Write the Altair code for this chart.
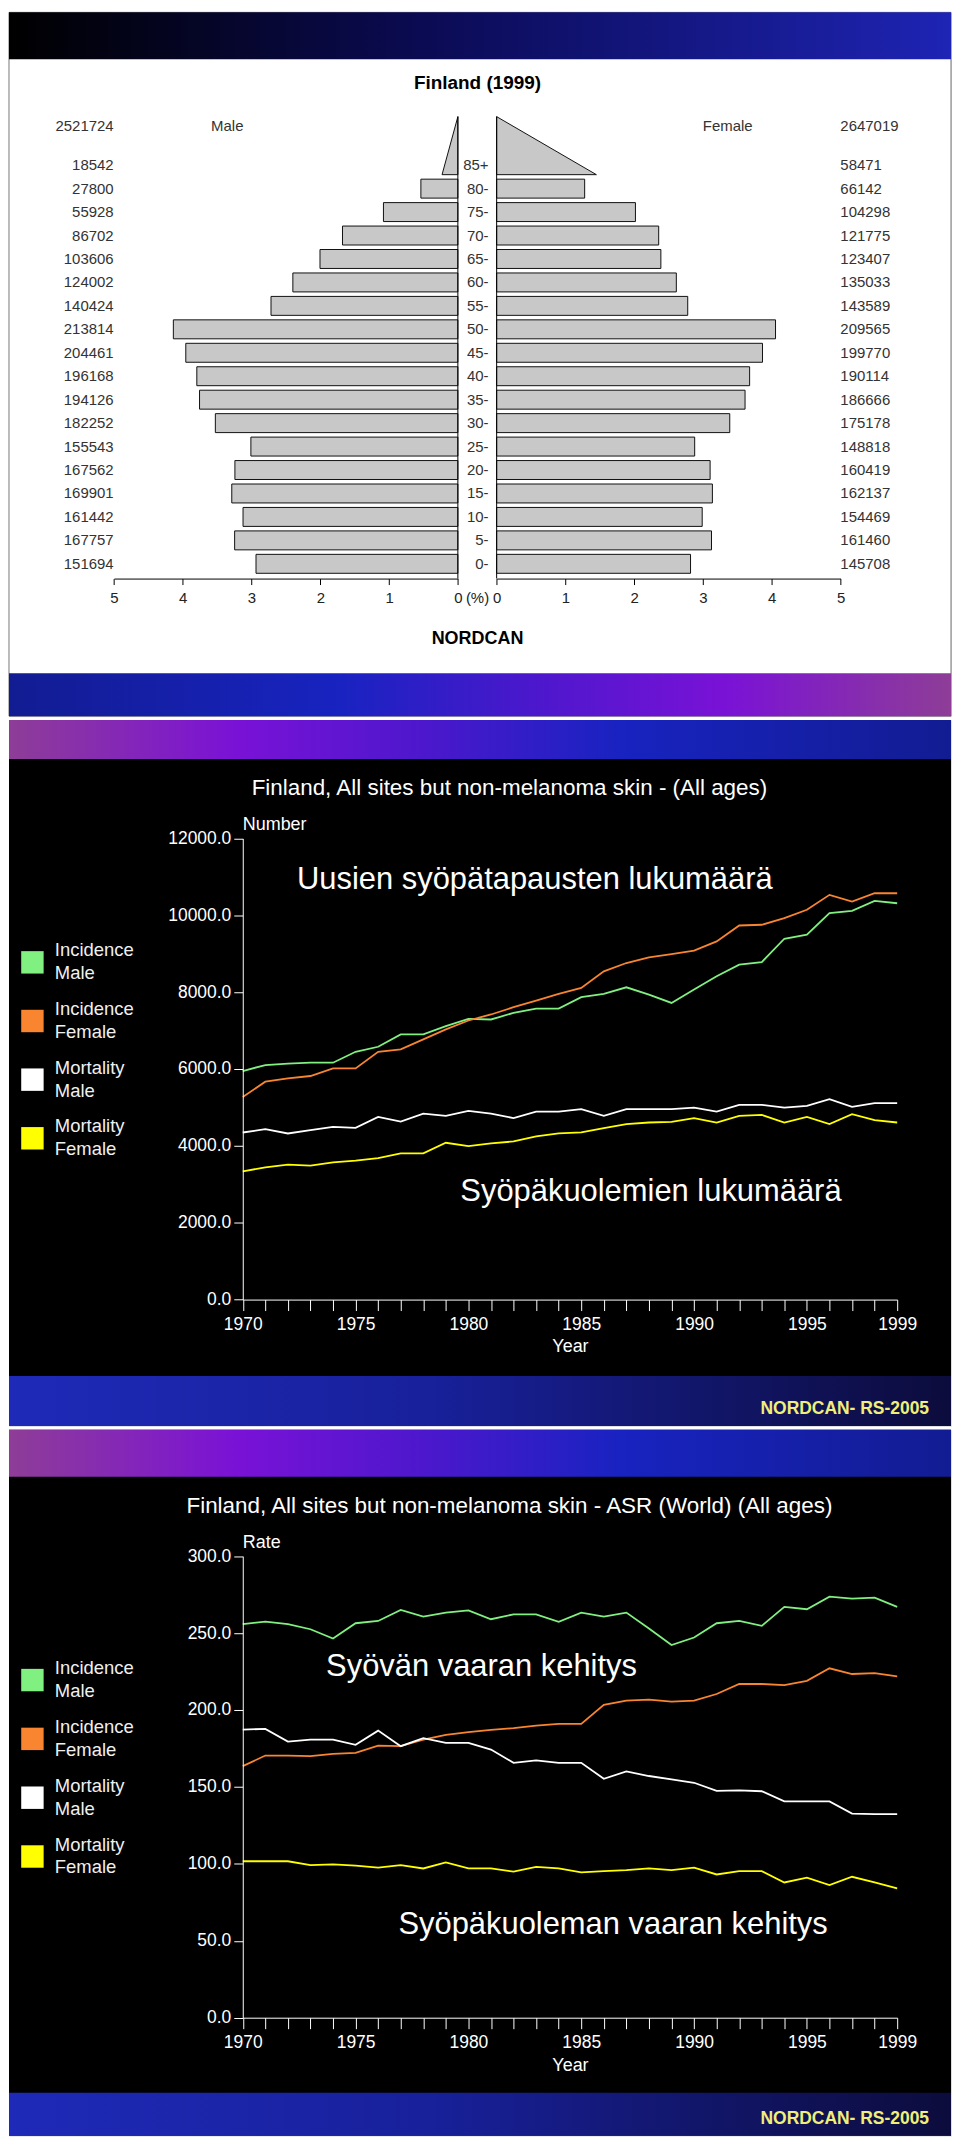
import altair as alt
import pandas as pd

# ---------------- data ----------------
ages = ["0-", "5-", "10-", "15-", "20-", "25-", "30-", "35-", "40-", "45-",
        "50-", "55-", "60-", "65-", "70-", "75-", "80-", "85+"]
male_counts = [151694, 167757, 161442, 169901, 167562, 155543, 182252, 194126, 196168,
               204461, 213814, 140424, 124002, 103606, 86702, 55928, 27800, 18542]
female_counts = [145708, 161460, 154469, 162137, 160419, 148818, 175178, 186666, 190114,
                 199770, 209565, 143589, 135033, 123407, 121775, 104298, 66142, 58471]
male_total = 2521724
female_total = 2647019
tip_width_male = 0.23     # open-ended 85+ wedge as drawn (%)
tip_width_female = 1.45

years = list(range(1970, 2000))
series_names = ["Incidence Male", "Incidence Female", "Mortality Male", "Mortality Female"]
legend_labels = ["Incidence\nMale", "Incidence\nFemale", "Mortality\nMale", "Mortality\nFemale"]
series_colors = ["#80f080", "#fa8530", "#ffffff", "#ffff00"]

num_inc_male = [5948, 6104, 6138, 6164, 6164, 6449, 6579, 6900, 6900, 7115, 7305, 7289, 7461, 7574, 7574,
                7868, 7954, 8127, 7938, 7720, 8067, 8412, 8716, 8784, 9390, 9494, 10055, 10117, 10376, 10314]
num_inc_female = [5274, 5671, 5759, 5818, 6017, 6017, 6449, 6511, 6770, 7030, 7263, 7419, 7608, 7782, 7954,
                  8109, 8542, 8758, 8905, 8991, 9079, 9320, 9735, 9754, 9925, 10143, 10532, 10358, 10574, 10574]
num_mort_male = [4348, 4435, 4322, 4410, 4495, 4470, 4755, 4633, 4841, 4781, 4910, 4841, 4721, 4893, 4893,
                 4955, 4781, 4955, 4955, 4955, 4997, 4893, 5066, 5066, 4997, 5040, 5214, 5015, 5110, 5110]
num_mort_female = [3337, 3441, 3510, 3484, 3571, 3614, 3683, 3804, 3804, 4081, 3995, 4064, 4115, 4245, 4323,
                   4349, 4461, 4565, 4608, 4625, 4721, 4608, 4781, 4807, 4608, 4755, 4565, 4825, 4669, 4608]

asr_inc_male = [255.8, 257.5, 255.8, 252.5, 246.5, 256.4, 257.9, 265.0, 260.7, 263.3, 264.8, 259.0, 262.2, 262.2, 257.3,
                263.3, 260.7, 263.3, 253.0, 242.2, 247.1, 256.4, 257.9, 254.7, 267.0, 265.5, 273.7, 272.4, 273.1, 267.0]
asr_inc_female = [163.5, 170.4, 170.4, 170.0, 171.5, 172.2, 176.9, 176.5, 180.8, 183.8, 185.6, 187.1, 188.2, 189.9, 191.0,
                  191.0, 203.3, 206.1, 206.7, 205.4, 206.1, 210.4, 216.9, 216.9, 216.2, 219.0, 227.1, 223.4, 224.0, 221.9]
asr_mort_male = [187.3, 187.7, 179.5, 180.8, 180.8, 177.4, 186.6, 176.5, 181.7, 178.7, 178.7, 174.3, 165.7, 167.2, 165.7,
                 165.7, 155.3, 160.1, 157.1, 154.9, 152.7, 147.4, 147.8, 147.2, 140.6, 140.6, 140.6, 132.7, 132.3, 132.3]
asr_mort_female = [101.7, 101.7, 101.7, 99.2, 99.6, 98.8, 97.6, 99.2, 97.0, 100.9, 97.0, 97.0, 94.9, 98.1, 97.0,
                   94.4, 95.3, 95.9, 97.0, 95.9, 97.5, 93.1, 95.3, 95.3, 87.9, 91.0, 86.2, 91.6, 87.9, 84.0]

# ---------------- styling / layout ----------------
FONT = "Liberation Sans"
W = 945
H1, H2, H3 = 706, 708, 708

BAND_P1_TOP = [(0, "#000000"), (0.45, "#0b0b55"), (1, "#1e24b4")]
BAND_P1_BOTTOM = [(0, "#121c92"), (0.35, "#1823c0"), (0.55, "#4a18cc"), (0.76, "#7a12d6"), (1, "#8e3d97")]
BAND_TOP = [(0, "#8e3d97"), (0.24, "#7a12d6"), (0.45, "#4a18cc"), (0.65, "#1823c0"), (1, "#121c92")]
BAND_BOTTOM = [(0, "#1e2ab8"), (0.45, "#18209a"), (1, "#0c0c3c")]


def grad(stops):
    return alt.LinearGradient(gradient="linear",
                              stops=[alt.GradientStop(color=c, offset=o) for o, c in stops],
                              x1=0, x2=1, y1=0, y2=0)


def rect_layer(y0, y1, fill, stroke=None):
    kw = dict(fill=fill)
    if stroke is not None:
        kw.update(stroke=stroke, strokeWidth=1)
    return alt.Chart(alt.Data(values=[{"k": 0}])).mark_rect(**kw).encode(
        x=alt.value(0), x2=alt.value(W), y=alt.value(y0), y2=alt.value(y1))


def text_layer(txt, x, y, size, color, weight="normal", align="center"):
    return alt.Chart(alt.Data(values=[{"t": txt}])).mark_text(
        font=FONT, fontSize=size, fontWeight=weight, color=color, align=align, baseline="middle"
    ).encode(x=alt.value(x), y=alt.value(y), text="t:N")


# ---------------- panel 1: population pyramid ----------------
total = male_total + female_total
pyr = pd.DataFrame({"idx": list(range(len(ages))), "age": ages,
                    "male": male_counts, "female": female_counts})
pyr["m_pct"] = pyr["male"] / total * 100
pyr["f_pct"] = pyr["female"] / total * 100
pyr["m_txt"] = pyr["male"].astype(str)
pyr["f_txt"] = pyr["female"].astype(str)
pyr["zero"] = 0.0
HALF = 0.404
pyr["y_lo"] = pyr["idx"] - HALF
pyr["y_hi"] = pyr["idx"] + HALF
bars = pyr[pyr["age"] != "85+"]

top_idx = len(ages) - 1
APEX = top_idx + 2.07
BASE = top_idx - HALF
tri_m = pd.DataFrame({"x": [0.0, tip_width_male], "ytop": [APEX, BASE], "ybot": [BASE, BASE]})
tri_f = pd.DataFrame({"x": [0.0, tip_width_female], "ytop": [APEX, BASE], "ybot": [BASE, BASE]})

AXIS_Y1 = 568
yscale_p = alt.Scale(domain=[0, 17], range=[553.2, 153.3], nice=False, zero=False)
mscale = alt.Scale(domain=[0, 5], range=[450.3, 105.3], nice=False, zero=False)
fscale = alt.Scale(domain=[0, 5], range=[489.2, 834.2], nice=False, zero=False)


def pyr_axis():
    return alt.Axis(orient="bottom", offset=-(H1 - AXIS_Y1), values=[0, 1, 2, 3, 4, 5], format="d",
                    title=None, tickSize=6, labelPadding=6, domainColor="black", tickColor="black",
                    labelColor="#222222", labelFont=FONT, labelFontSize=15, grid=False,
                    labelFlush=False, labelOverlap=False, zindex=2)


bar_style = dict(fill="#c8c8c8", stroke="#111111", strokeWidth=1)
male_bars = alt.Chart(bars).mark_rect(**bar_style).encode(
    x=alt.X("m_pct:Q", scale=mscale, axis=pyr_axis()), x2="zero:Q",
    y=alt.Y("y_lo:Q", scale=yscale_p, axis=None), y2="y_hi:Q")
female_bars = alt.Chart(bars).mark_rect(**bar_style).encode(
    x=alt.X("f_pct:Q", scale=fscale, axis=pyr_axis()), x2="zero:Q",
    y=alt.Y("y_lo:Q", scale=yscale_p, axis=None), y2="y_hi:Q")
male_tip = alt.Chart(tri_m).mark_area(orient="vertical", **bar_style).encode(
    x=alt.X("x:Q", scale=mscale, axis=None),
    y=alt.Y("ytop:Q", scale=yscale_p, axis=None), y2="ybot:Q")
female_tip = alt.Chart(tri_f).mark_area(orient="vertical", **bar_style).encode(
    x=alt.X("x:Q", scale=fscale, axis=None),
    y=alt.Y("ytop:Q", scale=yscale_p, axis=None), y2="ybot:Q")
zero_df = pd.DataFrame({"zero": [0.0]})
male_rule = alt.Chart(zero_df).mark_rule(color="black", strokeWidth=1).encode(
    x=alt.X("zero:Q", scale=mscale, axis=None), y=alt.value(104.5), y2=alt.value(AXIS_Y1))
female_rule = alt.Chart(zero_df).mark_rule(color="black", strokeWidth=1).encode(
    x=alt.X("zero:Q", scale=fscale, axis=None), y=alt.value(104.5), y2=alt.value(AXIS_Y1))

lab_style = dict(font=FONT, fontSize=15, color="#333333", baseline="middle")
male_nums = alt.Chart(pyr).mark_text(align="right", **lab_style).encode(
    x=alt.value(105), y=alt.Y("idx:Q", scale=yscale_p, axis=None), text="m_txt:N")
female_nums = alt.Chart(pyr).mark_text(align="left", **lab_style).encode(
    x=alt.value(834), y=alt.Y("idx:Q", scale=yscale_p, axis=None), text="f_txt:N")
age_labels = alt.Chart(pyr).mark_text(align="right", **lab_style).encode(
    x=alt.value(481), y=alt.Y("idx:Q", scale=yscale_p, axis=None), text="age:N")

p1 = alt.layer(
    rect_layer(0, H1, "#ffffff", stroke="#777777"),
    rect_layer(0, 47, grad(BAND_P1_TOP)),
    rect_layer(663, H1, grad(BAND_P1_BOTTOM)),
    text_layer("Finland (1999)", 470, 71, 19, "#000000", weight="bold"),
    text_layer(str(male_total), 105, 114.5, 15, "#333333", align="right"),
    text_layer("Male", 219, 114.5, 15, "#333333"),
    text_layer("Female", 721, 114.5, 15, "#333333"),
    text_layer(str(female_total), 834, 114.5, 15, "#333333", align="left"),
    male_bars, female_bars, male_tip, female_tip, male_rule, female_rule,
    male_nums, female_nums, age_labels,
    text_layer("(%)", 470, 588, 15, "#222222"),
    text_layer("NORDCAN", 470, 629, 18, "#000000", weight="bold"),
).properties(width=W, height=H1).resolve_scale(x="independent")


# ---------------- panels 2 and 3: trends ----------------
cscale = alt.Scale(domain=series_names, range=series_colors)
xscale_t = alt.Scale(domain=[1970, 1999], range=[234.5, 891], nice=False, zero=False)
label_years = "(datum.value % 5 == 0 || datum.value == 1999) ? datum.label : ''"


def trend_panel(H, series_vals, ydom, yvals, plot_top, plot_bot, title, title_y,
                ylab, ylab_y, legend_range, top_band_h, bottom_band_top, notes):
    rows = []
    for name, vals in zip(series_names, series_vals):
        for yr, v in zip(years, vals):
            rows.append({"year": yr, "value": v, "series": name})
    df = pd.DataFrame(rows)
    leg = pd.DataFrame({"series": series_names, "label": legend_labels,
                        "li": list(range(len(series_names)))})

    xaxis = alt.Axis(orient="bottom", offset=-(H - plot_bot), values=years, format="d",
                     labelExpr=label_years, title="Year", titleColor="white", titleFont=FONT,
                     titleFontSize=18, titleFontWeight="normal", titlePadding=5,
                     tickSize=11, labelPadding=5, tickColor="white", domainColor="white",
                     labelColor="white", labelFont=FONT, labelFontSize=17.5, grid=False,
                     labelFlush=False, labelOverlap=False, zindex=2)
    yaxis = alt.Axis(orient="left", offset=-234.5, values=yvals, format=".1f", title=None,
                     tickSize=9, labelPadding=3, tickColor="white", domainColor="white",
                     labelColor="white", labelFont=FONT, labelFontSize=17.5, grid=False,
                     labelFlush=False, labelOverlap=False, zindex=2)
    yscale = alt.Scale(domain=ydom, range=[plot_bot, plot_top], nice=False, zero=False)
    lscale = alt.Scale(domain=[0, 3], range=legend_range, nice=False, zero=False)

    lines = alt.Chart(df).mark_line(strokeWidth=1.8).encode(
        x=alt.X("year:Q", scale=xscale_t, axis=xaxis),
        y=alt.Y("value:Q", scale=yscale, axis=yaxis),
        color=alt.Color("series:N", scale=cscale, legend=None))
    leg_sq = alt.Chart(leg).mark_square(size=506, opacity=1).encode(
        x=alt.value(23.5), y=alt.Y("li:Q", scale=lscale, axis=None),
        color=alt.Color("series:N", scale=cscale, legend=None))
    leg_tx = alt.Chart(leg).mark_text(font=FONT, fontSize=18.5, color="#f0f0f0", align="left",
                                      baseline="middle", lineBreak="\n", lineHeight=23,
                                      dy=-12).encode(
        x=alt.value(46), y=alt.Y("li:Q", scale=lscale, axis=None), text="label:N")

    layers = [
        rect_layer(0, H, "#000000"),
        rect_layer(0, top_band_h, grad(BAND_TOP)),
        rect_layer(bottom_band_top, H, grad(BAND_BOTTOM)),
        text_layer("NORDCAN- RS-2005", 923, 691, 17.5, "#f2ee7a", weight="bold", align="right"),
        text_layer(title, 502, title_y, 22.5, "#ffffff"),
        text_layer(ylab, 234.5, ylab_y, 18, "#ffffff", align="left"),
    ]
    for txt, x, y in notes:
        layers.append(text_layer(txt, x, y, 31, "#ffffff"))
    layers += [lines, leg_sq, leg_tx]
    return alt.layer(*layers).properties(width=W, height=H).resolve_scale(y="independent")


p2 = trend_panel(
    H2, [num_inc_male, num_inc_female, num_mort_male, num_mort_female],
    [0, 12000], list(range(0, 12001, 2000)), 118.7, 581.3,
    "Finland,  All sites but non-melanoma skin -  (All ages)", 68,
    "Number", 105, [243, 419.5], 39, 658,
    [("Uusien syöpätapausten lukumäärä", 527.5, 160),
     ("Syöpäkuolemien lukumäärä", 644, 473)])

p3 = trend_panel(
    H3, [asr_inc_male, asr_inc_female, asr_mort_male, asr_mort_female],
    [0, 300], list(range(0, 301, 50)), 126.7, 589.7,
    "Finland,  All sites but non-melanoma skin - ASR (World) (All ages)", 76,
    "Rate", 114, [251, 428], 47, 665,
    [("Syövän vaaran kehitys", 474, 238),
     ("Syöpäkuoleman vaaran kehitys", 606, 497)])

chart = alt.vconcat(p1, p2, p3, spacing=4, bounds="flush").properties(
    padding=0, background="#ffffff"
).configure_view(stroke=None).configure(font=FONT)

chart.save("out.html", embed_options={"renderer": "svg", "actions": False})
